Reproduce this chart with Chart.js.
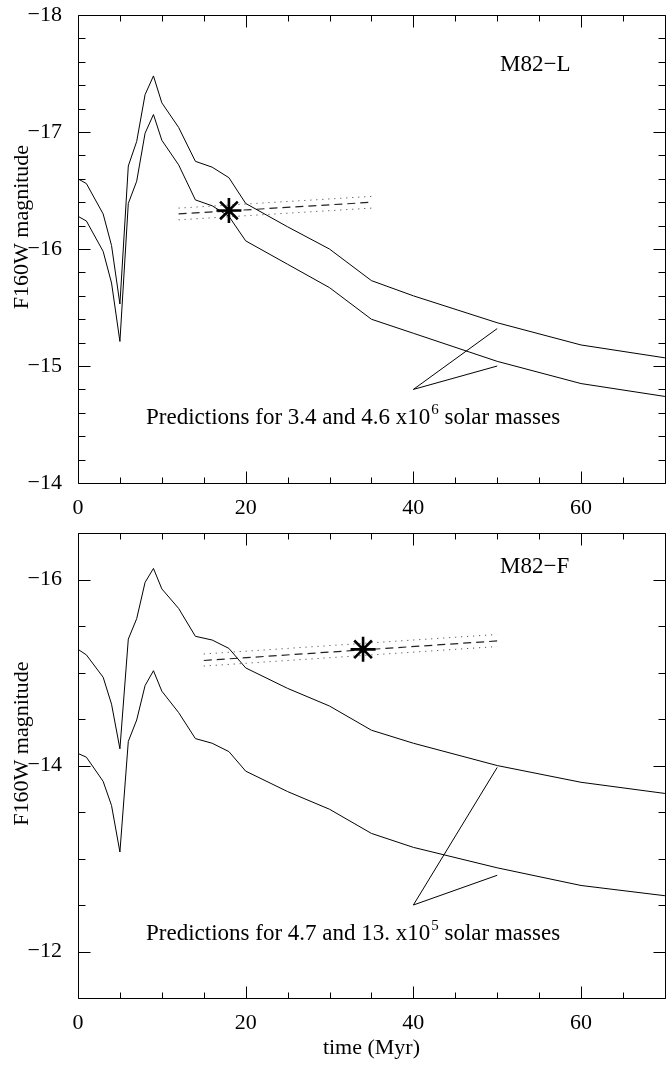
<!DOCTYPE html>
<html><head><meta charset="utf-8">
<script src="https://cdn.jsdelivr.net/npm/chart.js@4.4.1/dist/chart.umd.min.js"></script>
<style>
html,body{margin:0;padding:0;background:#fff;width:667px;height:1067px;overflow:hidden;position:relative}
canvas{position:absolute;left:0}
</style></head><body>
<canvas id="c1" width="680" height="524" style="top:0px"></canvas>
<canvas id="c2" width="680" height="549" style="top:518px"></canvas>
<script>
// ---- data ----
const ages = [0,1,3,4,5,6,7,8,9,10,12,14,16,18,20,25,30,35,40,50,60,70];
const magL_bright = [-16.60,-16.56,-16.30,-16.03,-15.53,-16.71,-16.92,-17.32,-17.48,-17.25,-17.04,-16.75,-16.70,-16.61,-16.39,-16.19,-16.00,-15.73,-15.60,-15.37,-15.18,-15.07];
const magL_faint  = [-16.28,-16.24,-15.98,-15.71,-15.21,-16.39,-16.58,-16.99,-17.15,-16.93,-16.72,-16.42,-16.37,-16.28,-16.07,-15.87,-15.67,-15.40,-15.28,-15.04,-14.85,-14.74];
const magF_bright = [-15.25,-15.19,-14.95,-14.66,-14.18,-15.36,-15.58,-15.97,-16.12,-15.90,-15.69,-15.39,-15.35,-15.26,-15.05,-14.83,-14.64,-14.38,-14.24,-14.00,-13.82,-13.70];
const magF_faint  = [-14.13,-14.09,-13.83,-13.57,-13.07,-14.26,-14.49,-14.86,-15.02,-14.80,-14.57,-14.29,-14.24,-14.15,-13.94,-13.72,-13.53,-13.27,-13.12,-12.90,-12.71,-12.60];

const fitL_age = [12, 35];
const fitL_mag = [-16.30, -16.40];
const fitL_upper = [-16.35, -16.45];
const fitL_lower = [-16.25, -16.35];
const obsL_age = [18];
const obsL_mag = [-16.33];
const pointerL_age = [50, 40, 50];
const pointerL_mag = [-15.32, -14.80, -15.00];

const fitF_age = [15, 50];
const fitF_mag = [-15.13, -15.34];
const fitF_upper = [-15.20, -15.41];
const fitF_lower = [-15.07, -15.28];
const obsF_age = [34];
const obsF_mag = [-15.25];
const pointerF_age = [50, 40, 50];
const pointerF_mag = [-13.98, -12.50, -12.82];

const xTickLabels = [0, 20, 40, 60];
const yTickLabelsL = [-18, -17, -16, -15, -14];
const yTickLabelsF = [-16, -14, -12];

const labelL = 'M82\u2212L';
const labelF = 'M82\u2212F';
const predL = ['Predictions for 3.4 and 4.6 x10', '6', ' solar masses'];
const predF = ['Predictions for 4.7 and 13. x10', '5', ' solar masses'];
const yTitle = 'F160W magnitude';
const xTitle = 'time (Myr)';

// ---- helpers ----
const FAM = "'Liberation Serif','Times New Roman',serif";
const pts = (xs, ys) => xs.map((x, i) => ({x: x, y: ys[i]}));
const fmt = v => (v < 0 ? '\u2212' + Math.abs(v) : String(v));

function framePlugin(xMinorStep, yMinorStep, yMajor) {
  return {
    id: 'frame',
    afterDatasetsDraw(chart) {
      const ctx = chart.ctx;
      const {left, right, top, bottom} = chart.chartArea;
      const xs = chart.scales.x, ys = chart.scales.y;
      const L = Math.round(left) + 0.5, R = Math.round(right) + 0.5, T = Math.round(top) + 0.5, B = Math.round(bottom) + 0.5;
      ctx.save();
      ctx.strokeStyle = '#000';
      ctx.lineWidth = 1;
      ctx.beginPath();
      ctx.moveTo(L, T); ctx.lineTo(R, T); ctx.lineTo(R, B); ctx.lineTo(L, B); ctx.closePath();
      for (let v = xs.min; v <= xs.max + 1e-9; v += xMinorStep) {
        const p = Math.round(xs.getPixelForValue(v)) + 0.5;
        const len = xTickLabels.some(t => Math.abs(t - v) < 1e-6) ? 12 : 6;
        ctx.moveTo(p, B); ctx.lineTo(p, B - len);
        ctx.moveTo(p, T); ctx.lineTo(p, T + len);
      }
      for (let v = ys.min; v <= ys.max + 1e-9; v += yMinorStep) {
        const p = Math.round(ys.getPixelForValue(v)) + 0.5;
        const len = yMajor.some(t => Math.abs(t - v) < 1e-6) ? 12 : 7;
        ctx.moveTo(L, p); ctx.lineTo(L + len, p);
        ctx.moveTo(R, p); ctx.lineTo(R - len, p);
      }
      ctx.stroke();
      ctx.restore();
    }
  };
}

function textPlugin(label, labelPos, pred, predPos, titleShift) {
  return {
    id: 'texts',
    afterDraw(chart) {
      const ctx = chart.ctx;
      const {top, bottom} = chart.chartArea;
      ctx.save();
      ctx.fillStyle = '#000';
      ctx.textBaseline = 'alphabetic';
      ctx.textAlign = 'left';
      ctx.font = '23px ' + FAM;
      ctx.fillText(label, labelPos[0], labelPos[1]);
      let x = predPos[0];
      const y = predPos[1];
      ctx.font = '23px ' + FAM;
      ctx.fillText(pred[0], x, y); x += ctx.measureText(pred[0]).width;
      ctx.font = '15px ' + FAM;
      ctx.fillText(pred[1], x + 1, y - 10); x += ctx.measureText(pred[1]).width + 1;
      ctx.font = '23px ' + FAM;
      ctx.fillText(pred[2], x, y);
      // y-axis title
      ctx.save();
      ctx.translate(28, (top + bottom) / 2 - titleShift);
      ctx.rotate(-Math.PI / 2);
      ctx.textAlign = 'center';
      ctx.font = '22px ' + FAM;
      ctx.fillText(yTitle, 0, 0);
      ctx.restore();
      ctx.restore();
    }
  };
}

function buildChart(id, o) {
  const lineDS = (data, extra) => Object.assign({
    data: data, showLine: true, borderColor: '#000', borderWidth: 1, pointRadius: 0,
    tension: 0, fill: false
  }, extra || {});
  return new Chart(document.getElementById(id), {
    type: 'scatter',
    data: {
      datasets: [
        {data: pts(o.obsAge, o.obsMag), showLine: false, pointStyle: 'star', pointRadius: 12.5,
         borderColor: '#000', borderWidth: 2.6, backgroundColor: '#000'},
        lineDS(pts(ages, o.bright)),
        lineDS(pts(ages, o.faint)),
        lineDS(pts(o.fitAge, o.fitMag), {borderColor: '#222', borderWidth: 1.2, borderDash: [8, 5]}),
        lineDS(pts(o.fitAge, o.fitUpper), {borderColor: '#333', borderWidth: 1, borderDash: [1, 5]}),
        lineDS(pts(o.fitAge, o.fitLower), {borderColor: '#333', borderWidth: 1, borderDash: [1, 5]}),
        lineDS(pts(o.ptrAge, o.ptrMag))
      ]
    },
    options: {
      responsive: false,
      animation: false,
      events: [],
      layout: {padding: {top: o.padTop, right: 11, left: 0, bottom: 0}},
      plugins: {legend: {display: false}, tooltip: {enabled: false}},
      scales: {
        x: {
          type: 'linear', min: 0, max: 70, position: 'bottom',
          grid: {display: false}, border: {display: false},
          ticks: {font: {family: FAM, size: 22}, color: '#000', padding: o.xPad, maxRotation: 0, autoSkip: false, callback: v => fmt(v)},
          afterBuildTicks: s => { s.ticks = xTickLabels.map(v => ({value: v})); },
          afterFit: s => { s.height = o.xHeight; s.paddingLeft = 0; s.paddingRight = 0; },
          title: {display: o.showXTitle, text: xTitle, font: {family: FAM, size: 22}, color: '#000', padding: {top: 0, bottom: 6}}
        },
        y: {
          type: 'linear', min: o.yMin, max: o.yMax, reverse: true,
          grid: {display: false}, border: {display: false},
          ticks: {font: {family: FAM, size: 22}, color: '#000', padding: 8, callback: v => fmt(v)},
          afterBuildTicks: s => { s.ticks = o.yLabels.map(v => ({value: v})); },
          afterFit: s => { s.width = 78; s.paddingTop = 0; s.paddingBottom = 0; },
          title: {display: false}
        }
      }
    },
    plugins: [framePlugin(5, o.yMinor, o.yLabels), textPlugin(o.label, o.labelPos, o.pred, o.predPos, 22)]
  });
}

buildChart('c1', {
  bright: magL_bright, faint: magL_faint,
  fitAge: fitL_age, fitMag: fitL_mag, fitUpper: fitL_upper, fitLower: fitL_lower,
  obsAge: obsL_age, obsMag: obsL_mag, ptrAge: pointerL_age, ptrMag: pointerL_mag,
  yMin: -18, yMax: -14, yMinor: 0.2, yLabels: yTickLabelsL,
  padTop: 9, xHeight: 41, xPad: 4, showXTitle: false,
  label: labelL, labelPos: [500, 71], pred: predL, predPos: [146, 424]
});
buildChart('c2', {
  bright: magF_bright, faint: magF_faint,
  fitAge: fitF_age, fitMag: fitF_mag, fitUpper: fitF_upper, fitLower: fitF_lower,
  obsAge: obsF_age, obsMag: obsF_mag, ptrAge: pointerF_age, ptrMag: pointerF_mag,
  yMin: -16.5, yMax: -11.5, yMinor: 0.5, yLabels: yTickLabelsF,
  padTop: 7, xHeight: 69, xPad: 4, showXTitle: true,
  label: labelF, labelPos: [500, 55], pred: predF, predPos: [146, 422]
});
</script></body></html>
